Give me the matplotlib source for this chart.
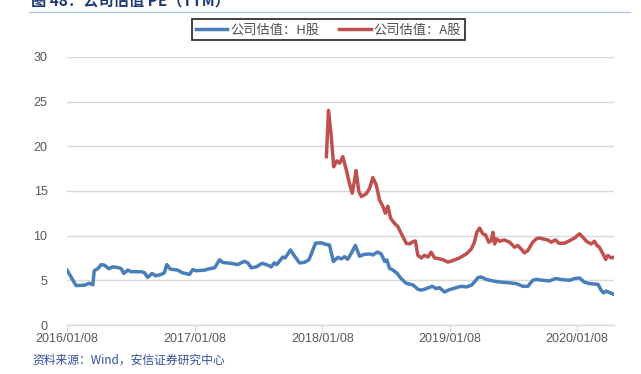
import matplotlib
matplotlib.use("Agg")
import matplotlib.pyplot as plt
import matplotlib.dates as mdates
import pandas as pd

plt.rcParams["font.family"] = ["Liberation Sans", "Noto Sans CJK SC", "DejaVu Sans"]

# H-share PE (TTM)
h_dates = [
    "2016-01-08", "2016-02-03", "2016-02-27", "2016-03-12", "2016-03-22", "2016-03-26",
    "2016-04-05", "2016-04-15", "2016-04-24", "2016-05-07", "2016-05-18", "2016-06-02",
    "2016-06-11", "2016-06-19", "2016-06-30", "2016-07-10", "2016-07-29", "2016-08-08",
    "2016-08-17", "2016-08-26", "2016-09-08", "2016-09-18", "2016-10-04", "2016-10-13",
    "2016-10-20", "2016-10-30", "2016-11-20", "2016-12-03", "2016-12-12", "2016-12-24",
    "2017-01-02", "2017-01-12", "2017-02-05", "2017-02-19", "2017-03-06", "2017-03-20",
    "2017-03-29", "2017-04-22", "2017-05-11", "2017-05-30", "2017-06-09", "2017-06-19",
    "2017-07-03", "2017-07-20", "2017-08-05", "2017-08-15", "2017-08-24", "2017-08-31",
    "2017-09-17", "2017-09-24", "2017-10-09", "2017-10-21", "2017-11-04", "2017-11-18",
    "2017-12-01", "2017-12-08", "2017-12-20", "2018-01-05", "2018-01-20", "2018-01-29",
    "2018-02-09", "2018-02-22", "2018-03-04", "2018-03-13", "2018-03-22", "2018-04-01",
    "2018-04-13", "2018-04-25", "2018-05-09", "2018-05-24", "2018-06-02", "2018-06-16",
    "2018-06-26", "2018-07-06", "2018-07-12", "2018-07-20", "2018-07-29", "2018-08-10",
    "2018-08-22", "2018-09-06", "2018-09-25", "2018-10-09", "2018-10-19", "2018-11-02",
    "2018-11-19", "2018-12-01", "2018-12-10", "2018-12-24", "2019-01-08", "2019-01-27",
    "2019-02-10", "2019-02-25", "2019-03-11", "2019-03-20", "2019-03-30", "2019-04-09",
    "2019-04-23", "2019-05-12", "2019-05-31", "2019-06-29", "2019-07-18", "2019-08-06",
    "2019-08-20", "2019-09-03", "2019-09-13", "2019-10-02", "2019-10-21", "2019-11-07",
    "2019-11-28", "2019-12-18", "2020-01-01", "2020-01-15", "2020-01-29", "2020-02-13",
    "2020-03-08", "2020-03-17", "2020-03-24", "2020-04-01", "2020-04-10", "2020-04-24",
]
h_pe = [
    6.14, 4.41, 4.45, 4.67, 4.50, 6.07,
    6.30, 6.76, 6.70, 6.30, 6.50, 6.43,
    6.30, 5.77, 6.14, 5.96, 5.96, 5.96,
    5.85, 5.33, 5.77, 5.50, 5.66, 5.85,
    6.76, 6.25, 6.14, 5.85, 5.77, 5.66,
    6.20, 6.07, 6.14, 6.30, 6.40, 7.30,
    7.00, 6.90, 6.76, 7.13, 6.95, 6.40,
    6.50, 6.90, 6.70, 6.50, 6.95, 6.76,
    7.60, 7.50, 8.40, 7.70, 6.95, 7.00,
    7.30, 7.97, 9.15, 9.20, 9.00, 8.95,
    7.10, 7.57, 7.40, 7.65, 7.35, 8.00,
    8.90, 7.70, 7.90, 7.95, 7.84, 8.17,
    7.95, 7.10, 7.28, 6.34, 6.16, 5.80,
    5.20, 4.66, 4.48, 4.00, 3.90, 4.07,
    4.33, 4.07, 4.18, 3.70, 3.96, 4.18,
    4.33, 4.26, 4.44, 4.80, 5.30, 5.37,
    5.10, 4.93, 4.81, 4.72, 4.63, 4.33,
    4.33, 5.00, 5.10, 5.00, 4.93, 5.20,
    5.07, 5.00, 5.20, 5.26, 4.80, 4.63,
    4.55, 3.90, 3.60, 3.80, 3.63, 3.40,
]

# A-share PE (TTM)
a_dates = [
    "2018-01-20", "2018-01-26", "2018-02-03", "2018-02-10", "2018-02-19", "2018-02-27",
    "2018-03-08", "2018-03-18", "2018-03-27", "2018-04-04", "2018-04-11", "2018-04-15",
    "2018-04-23", "2018-04-30", "2018-05-14", "2018-05-24", "2018-06-02", "2018-06-12",
    "2018-06-21", "2018-07-01", "2018-07-08", "2018-07-15", "2018-07-23", "2018-08-03",
    "2018-08-13", "2018-08-22", "2018-09-06", "2018-09-15", "2018-09-25", "2018-10-02",
    "2018-10-09", "2018-10-19", "2018-10-28", "2018-11-07", "2018-11-16", "2018-11-26",
    "2018-12-10", "2018-12-20", "2019-01-03", "2019-01-17", "2019-02-05", "2019-02-25",
    "2019-03-11", "2019-03-20", "2019-03-27", "2019-04-04", "2019-04-13", "2019-04-21",
    "2019-04-30", "2019-05-07", "2019-05-12", "2019-05-17", "2019-05-23", "2019-05-31",
    "2019-06-14", "2019-06-29", "2019-07-13", "2019-07-22", "2019-08-01", "2019-08-10",
    "2019-08-20", "2019-09-03", "2019-09-13", "2019-09-22", "2019-10-02", "2019-10-16",
    "2019-10-26", "2019-11-07", "2019-11-17", "2019-12-03", "2019-12-18", "2020-01-01",
    "2020-01-15", "2020-01-25", "2020-02-05", "2020-02-18", "2020-02-27", "2020-03-05",
    "2020-03-12", "2020-03-22", "2020-03-30", "2020-04-05", "2020-04-15", "2020-04-24",
]
a_pe = [
    18.84, 24.00, 21.10, 17.70, 18.36, 18.10,
    18.84, 17.35, 15.86, 14.74, 16.23, 17.28,
    14.93, 14.37, 14.67, 15.30, 16.50, 15.67,
    14.00, 13.25, 12.50, 13.30, 11.94, 11.38,
    11.00, 10.26, 9.14, 9.07, 9.33, 9.40,
    7.80, 7.50, 7.80, 7.60, 8.15, 7.50,
    7.40, 7.30, 7.04, 7.20, 7.50, 7.96,
    8.50, 9.26, 10.37, 10.85, 10.20, 10.07,
    9.26, 9.44, 10.37, 9.07, 9.63, 9.37,
    9.52, 9.26, 8.70, 8.90, 8.50, 8.07,
    8.33, 9.26, 9.63, 9.74, 9.63, 9.52,
    9.26, 9.52, 9.15, 9.15, 9.44, 9.74,
    10.20, 9.81, 9.33, 9.07, 9.37, 8.90,
    8.70, 7.96, 7.33, 7.78, 7.50, 7.60,
]

x_ticks = ["2016-01-08", "2017-01-08", "2018-01-08", "2019-01-08", "2020-01-08"]
y_ticks = [0, 5, 10, 15, 20, 25, 30]

fig = plt.figure(figsize=(6.41, 3.74), dpi=100)
ax = fig.add_axes([0.1045, 0.131, 0.854, 0.717])

ax.plot(pd.to_datetime(h_dates), h_pe, color="#4a7ebb", linewidth=2.5,
        label="公司估值：H股", solid_joinstyle="round")
ax.plot(pd.to_datetime(a_dates), a_pe, color="#c0504d", linewidth=2.5,
        label="公司估值：A股", solid_joinstyle="round")

ax.set_ylim(0, 30)
ax.set_yticks(y_ticks)
ax.set_xlim(pd.Timestamp("2016-01-08"), pd.Timestamp("2020-04-24"))
ax.set_xticks(pd.to_datetime(x_ticks))
ax.xaxis.set_major_formatter(mdates.DateFormatter("%Y/%m/%d"))

ax.grid(axis="y", color="#d9d9d9", linewidth=1.0)
ax.set_axisbelow(True)
for s in ["top", "right", "left"]:
    ax.spines[s].set_visible(False)
ax.spines["bottom"].set_color("#d9d9d9")
ax.spines["bottom"].set_linewidth(1.0)
ax.tick_params(axis="y", length=0, labelsize=9, labelcolor="#595959", pad=14)
ax.tick_params(axis="x", length=4, color="#d9d9d9", labelsize=9,
               labelcolor="#595959", pad=2)

leg = fig.legend(loc="center", bbox_to_anchor=(0.512, 0.92), ncol=2,
                 frameon=True, fancybox=False, edgecolor="black",
                 prop={"family": ["Noto Sans CJK SC", "DejaVu Sans"], "size": 9.5},
                 handlelength=2.4, columnspacing=1.5, handletextpad=0.2,
                 borderpad=0.3, borderaxespad=0, labelcolor="#505050")
leg.get_frame().set_linewidth(1.3)
for t in leg.get_texts():
    t.set_x(0)

# title (clipped at top, as in the source)
fig.text(0.048, 1.0, "图 48：公司估值 PE（TTM）", fontsize=11, fontweight="bold",
         color="#1f3b73", va="center", ha="left",
         family=["Noto Sans CJK SC", "DejaVu Sans"])
fig.add_artist(plt.Line2D([0.045, 0.983], [0.968, 0.968], color="#b4c7e7",
                          linewidth=1.0, transform=fig.transFigure))

fig.text(0.051, 0.037, "资料来源：Wind，安信证券研究中心", fontsize=8.5,
         color="#2f4f9f", style="italic", va="center", ha="left",
         family=["Noto Sans CJK SC", "DejaVu Sans"])

fig.savefig("out.png", dpi=100)
